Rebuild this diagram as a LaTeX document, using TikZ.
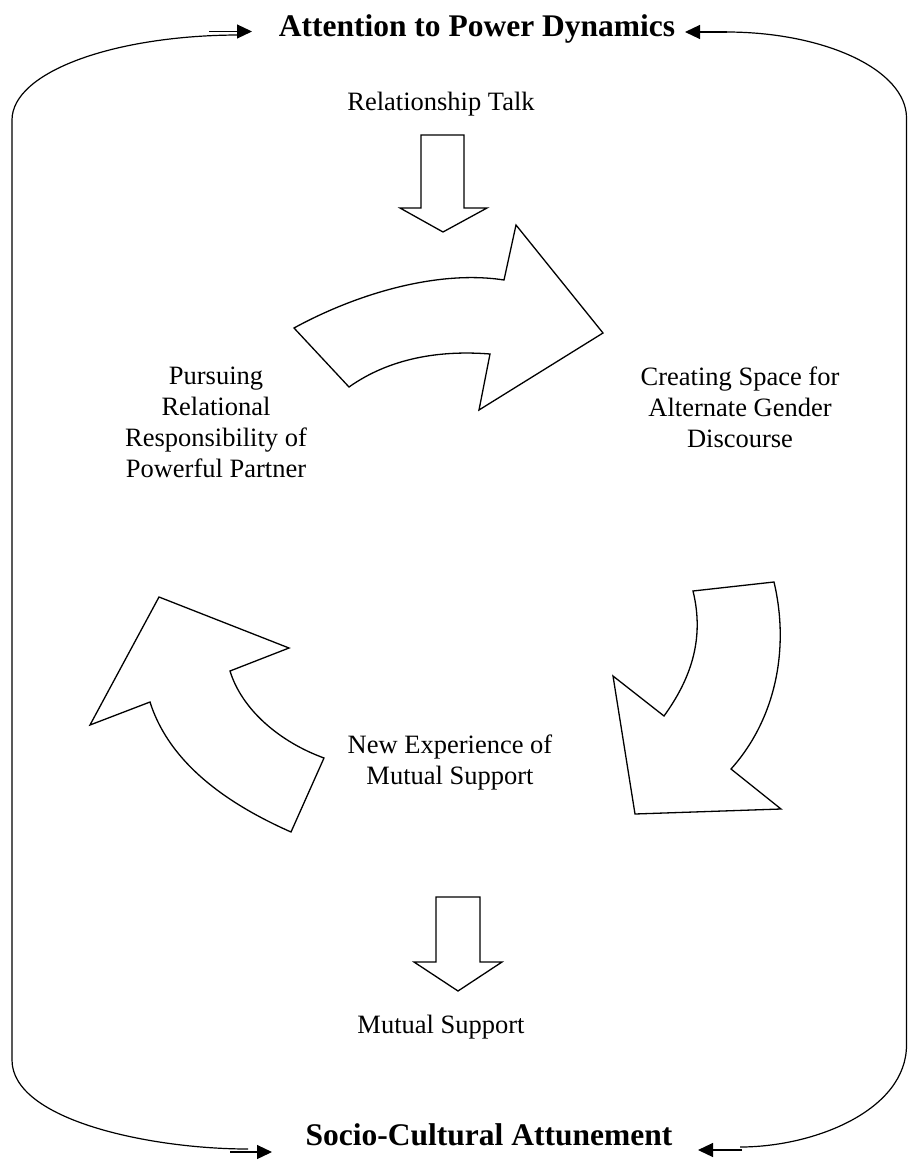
\documentclass[tikz,border=0pt]{standalone}
\usepackage{fontspec}
\setmainfont{Liberation Serif}
\usetikzlibrary{arrows.meta}
\begin{document}
\begin{tikzpicture}[x=1pt,y=-1pt,
  lbl/.style={font=\fontsize{26.5}{31}\selectfont, align=center, inner sep=0pt},
  ttl/.style={font=\fontsize{31.5}{36}\selectfont\bfseries, inner sep=0pt},
  blk/.style={draw, line width=1.3pt, fill=white, line join=miter},
  loopln/.style={line width=1.2pt},
  tipln/.style={-{Triangle[length=15pt,width=14pt]}, line width=1.2pt}]
\useasboundingbox (0,0) rectangle (908,1161);

% titles
\node[ttl, anchor=base] (top) at (477,37) {Attention to Power Dynamics};
\node[ttl, anchor=base] (bot) at (489,1145) {Socio-Cultural Attunement};

% labels
\node[lbl, anchor=base] (rt) at (441,111) {Relationship Talk};
\node[lbl] (prp) at (216,422) {Pursuing\\Relational\\Responsibility of\\Powerful Partner};
\node[lbl] (csa) at (740,407) {Creating Space for\\Alternate Gender\\Discourse};
\node[lbl] (nem) at (450,762) {New Experience of\\Mutual Support};
\node[lbl, anchor=base] (ms) at (441,1033) {Mutual Support};

% loop coordinates
\coordinate (tlA) at (252,31.5);
\coordinate (blA) at (272,1152);
\coordinate (trA) at (685,32);
\coordinate (brA) at (698,1150);

% left side of loop
\draw[loopln] (240,35) .. controls (114,35) and (12,72) .. (12,120) -- (12,1060)
  .. controls (12,1120) and (150,1149) .. (248,1149);
\draw[tipln] (209,31.5) -- (tlA);
\draw[tipln] (230,1152) -- (blA);

% right side of loop
\draw[loopln] (726,32) .. controls (825,32) and (906.5,70) .. (906.5,118) -- (906.5,1045)
  .. controls (906.5,1110) and (815,1147) .. (740,1147);
\draw[tipln] (727,32) -- (trA);
\draw[tipln] (742,1150) -- (brA);

% down arrow under Relationship Talk
\draw[blk] (421,135) -- (464,135) -- (464,208) -- (487,208) -- (443,232)
  -- (400,208) -- (421,208) -- cycle;

% down arrow above Mutual Support
\draw[blk] (436,897) -- (480,897) -- (480,962) -- (502,962) -- (458,991)
  -- (414,962) -- (436,962) -- cycle;

% top curved arrow (to the right)
\draw[blk] (294,328) .. controls (360,292) and (440,270) .. (504,280)
  -- (516,225) -- (603,333) -- (479,410) -- (490,354)
  .. controls (440,350) and (390,358) .. (349,387) -- cycle;

% right curved arrow (downward)
\draw[blk] (693,591) -- (774,582) .. controls (790,650) and (775,720) .. (731,769)
  -- (781,809) -- (635,814) -- (613,676) -- (664,716)
  .. controls (690,680) and (705,640) .. (693,591) -- cycle;

% left curved arrow (upward)
\draw[blk] (159,597) -- (289,648) -- (230,671)
  .. controls (242,710) and (280,742) .. (324,758)
  -- (291,832) .. controls (230,805) and (170,765) .. (150,702)
  -- (90,725) -- cycle;
\end{tikzpicture}
\end{document}
